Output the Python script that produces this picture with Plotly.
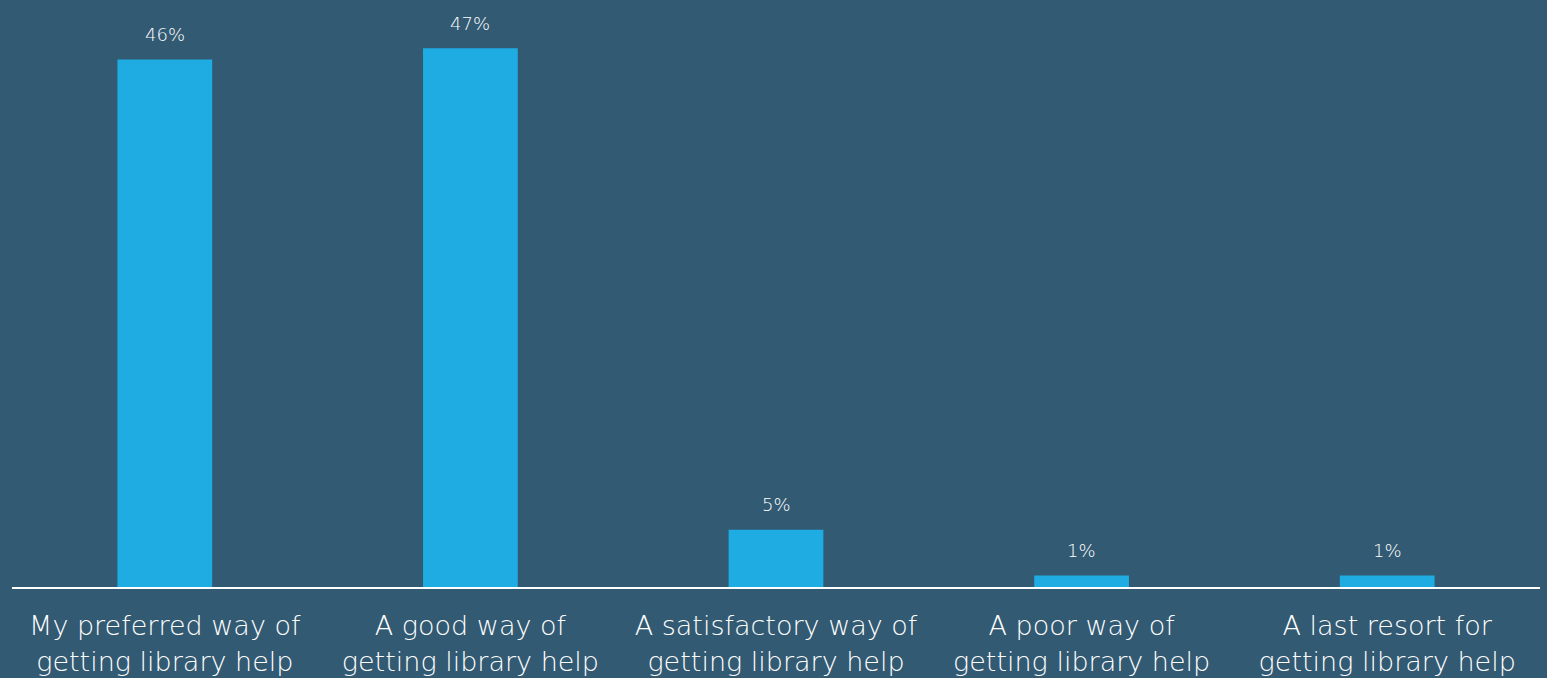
import plotly.graph_objects as go

categories = [
    "My preferred way of<br>getting library help",
    "A good way of<br>getting library help",
    "A satisfactory way of<br>getting library help",
    "A poor way of<br>getting library help",
    "A last resort for<br>getting library help",
]
values = [46, 47, 5, 1, 1]
value_labels = ["46%", "47%", "5%", "1%", "1%"]

BG = "#335A73"
BAR = "#1FACE3"
FONT = "'DejaVu Sans', sans-serif"

fig = go.Figure(
    go.Bar(
        x=categories,
        y=values,
        width=0.31,
        marker=dict(color=BAR, line=dict(width=0)),
        hoverinfo="skip",
    )
)

# value labels floating above each bar
for cat, v, lab in zip(categories, values, value_labels):
    fig.add_annotation(
        x=cat, y=v, text=lab, showarrow=False,
        yanchor="middle", yshift=25,
        font=dict(family=FONT, size=18, color="#FFFFFF", weight=200),
    )

fig.update_layout(
    width=1547, height=678,
    paper_bgcolor=BG, plot_bgcolor=BG,
    margin=dict(l=12, r=7, t=0, b=91),
    showlegend=False,
    font=dict(family=FONT, color="#FFFFFF"),
    bargap=0.69,
)
fig.update_xaxes(
    showgrid=False, showline=True, linecolor="#FFFFFF", linewidth=2,
    ticks="", ticklabelstandoff=14,
    tickfont=dict(family=FONT, size=27, color="#FFFFFF", weight=200),
    fixedrange=True,
)
fig.update_yaxes(
    range=[0, 51.2], visible=False, showgrid=False, zeroline=False, fixedrange=True,
)

fig.write_html("out.html", config={"displayModeBar": False})
